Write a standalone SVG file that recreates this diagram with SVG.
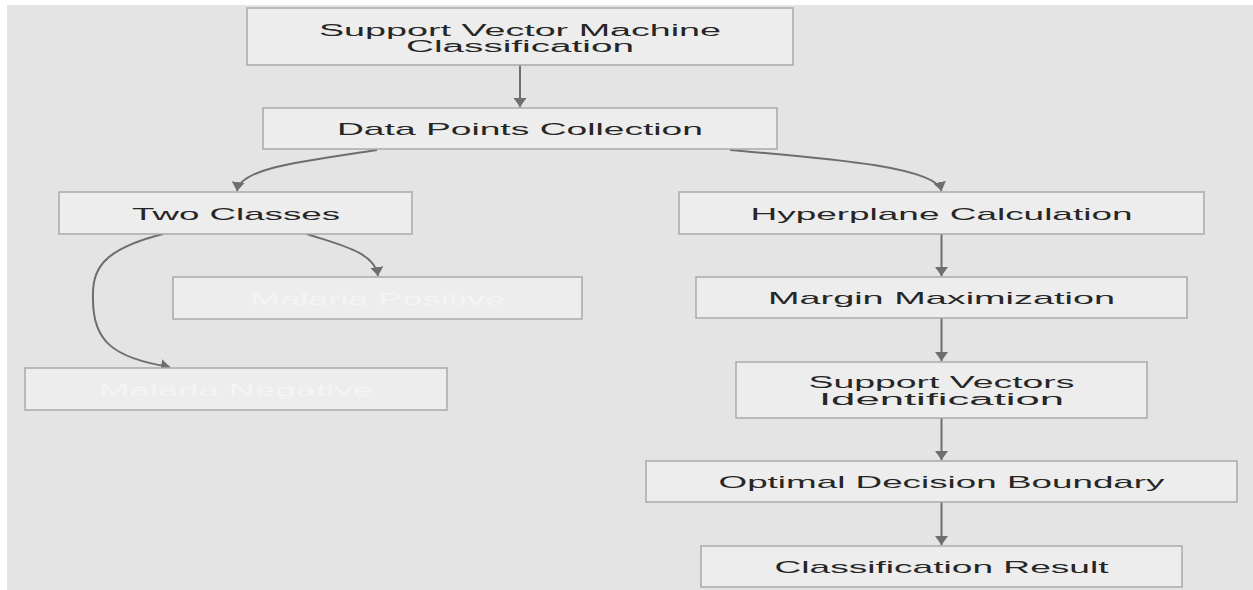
<svg xmlns="http://www.w3.org/2000/svg" width="1253" height="590" viewBox="0 0 1253 590">
<style>
.box{fill:#ededed;stroke:#a9a9a9;stroke-width:1.5}
.lbl{font-family:"Liberation Sans",Arial,sans-serif;font-size:17px;fill:#262626;text-anchor:middle}
.two{font-size:16px}
.faint{fill:#f4f4f4}
.edge{fill:none;stroke:#6e6e6e;stroke-width:2}
</style>
<defs>
<marker id="arr" markerUnits="userSpaceOnUse" markerWidth="10" markerHeight="14" refX="9" refY="7" orient="auto">
<path d="M0,0.5 L9,7 L0,13.5 z" fill="#6e6e6e"/>
</marker>
</defs>
<rect x="0" y="0" width="1253" height="590" fill="#ffffff"/>
<rect x="7" y="5" width="1246" height="585" fill="#e4e4e4"/>
<g id="connectors">
<path class="edge" d="M520,65 L520,107" marker-end="url(#arr)"/>
<path class="edge" d="M377,150 C300,162 240,168 237,191" marker-end="url(#arr)"/>
<path class="edge" d="M730,150 C820,158 936,166 941.5,191" marker-end="url(#arr)"/>
<path class="edge" d="M307,234 C340,245 375,252 378,276" marker-end="url(#arr)"/>
<path class="edge" d="M163,234 C100,250 92,270 93,300 C93,340 112,358 170,367" marker-end="url(#arr)"/>
<path class="edge" d="M941.5,234 L941.5,276" marker-end="url(#arr)"/>
<path class="edge" d="M941.5,318 L941.5,361" marker-end="url(#arr)"/>
<path class="edge" d="M941.5,418 L941.5,460" marker-end="url(#arr)"/>
<path class="edge" d="M941.5,502 L941.5,545" marker-end="url(#arr)"/>
</g>
<g id="n-svm">
<rect class="box" x="247" y="8" width="546" height="57"/>
<text class="lbl two" x="520" y="36" textLength="402" lengthAdjust="spacingAndGlyphs">Support Vector Machine</text>
<text class="lbl two" x="520" y="52" textLength="228" lengthAdjust="spacingAndGlyphs">Classification</text>
</g>
<g id="n-data">
<rect class="box" x="263" y="108" width="514" height="41"/>
<text class="lbl" x="520" y="135" textLength="366" lengthAdjust="spacingAndGlyphs">Data Points Collection</text>
</g>
<g id="n-two">
<rect class="box" x="59" y="192" width="353" height="42"/>
<text class="lbl" x="236" y="219.5" textLength="208" lengthAdjust="spacingAndGlyphs">Two Classes</text>
</g>
<g id="n-pos">
<rect class="box" x="173" y="277" width="409" height="42"/>
<text class="lbl faint" x="377.5" y="304.5" textLength="255" lengthAdjust="spacingAndGlyphs">Malaria Positive</text>
</g>
<g id="n-neg">
<rect class="box" x="25" y="368" width="422" height="42"/>
<text class="lbl faint" x="236" y="395.5" textLength="274" lengthAdjust="spacingAndGlyphs">Malaria Negative</text>
</g>
<g id="n-hyper">
<rect class="box" x="679" y="192" width="525" height="42"/>
<text class="lbl" x="941.5" y="219.5" textLength="382" lengthAdjust="spacingAndGlyphs">Hyperplane Calculation</text>
</g>
<g id="n-margin">
<rect class="box" x="696" y="277" width="491" height="41"/>
<text class="lbl" x="941.5" y="304" textLength="347" lengthAdjust="spacingAndGlyphs">Margin Maximization</text>
</g>
<g id="n-sv">
<rect class="box" x="736" y="362" width="411" height="56"/>
<text class="lbl two" x="941.5" y="388" textLength="266" lengthAdjust="spacingAndGlyphs">Support Vectors</text>
<text class="lbl two" x="941.5" y="405" textLength="245" lengthAdjust="spacingAndGlyphs">Identification</text>
</g>
<g id="n-opt">
<rect class="box" x="646" y="461" width="591" height="41"/>
<text class="lbl" x="941.5" y="488" textLength="446" lengthAdjust="spacingAndGlyphs">Optimal Decision Boundary</text>
</g>
<g id="n-result">
<rect class="box" x="701" y="546" width="481" height="41"/>
<text class="lbl" x="941.5" y="573" textLength="334" lengthAdjust="spacingAndGlyphs">Classification Result</text>
</g>
</svg>
